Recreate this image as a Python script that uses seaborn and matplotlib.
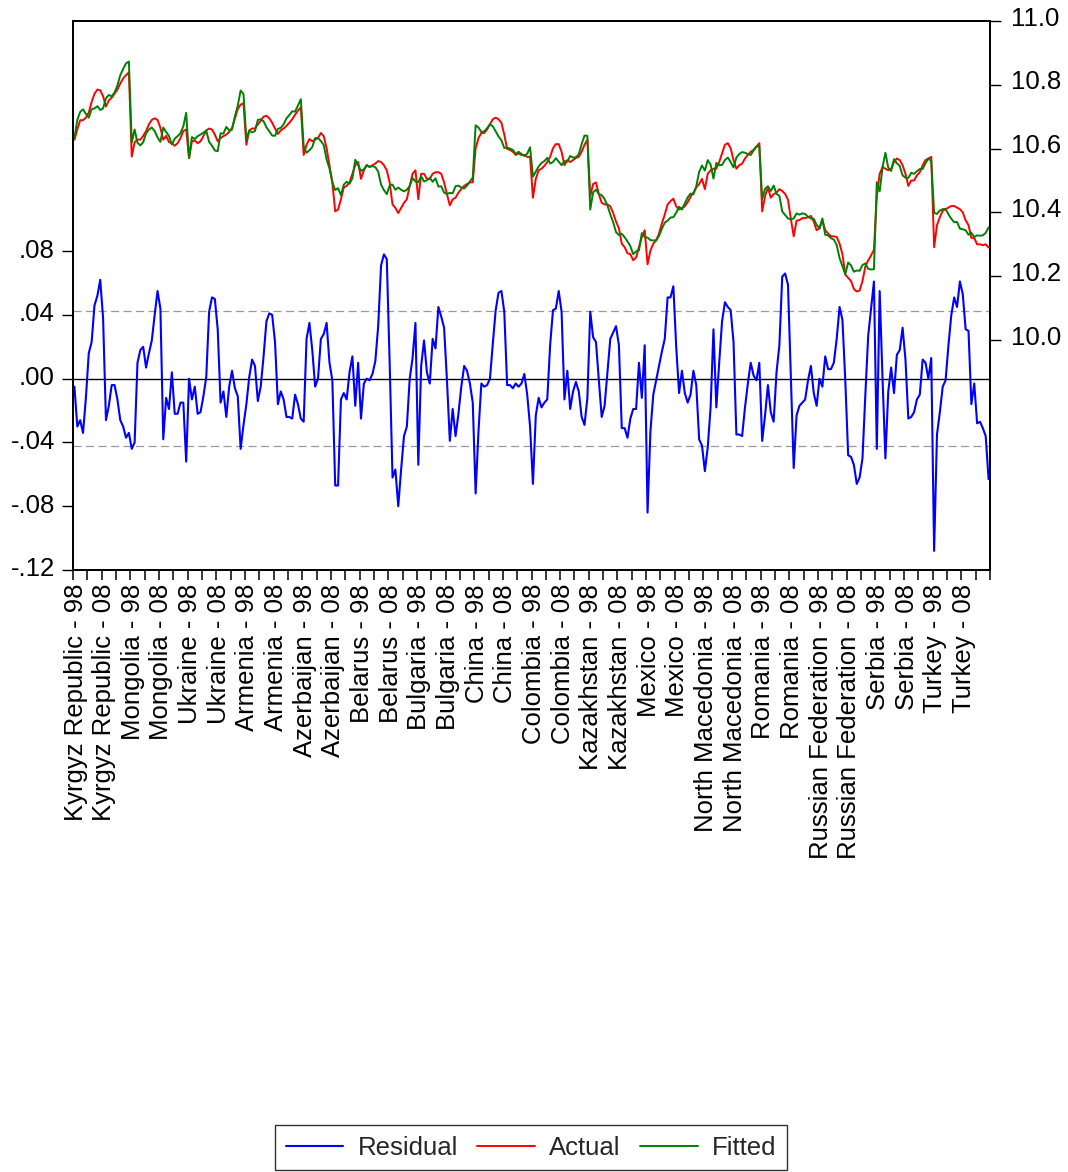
import numpy as np
import pandas as pd
import matplotlib
matplotlib.use("Agg")
import matplotlib.pyplot as plt
from matplotlib.lines import Line2D
from matplotlib.transforms import ScaledTranslation
import seaborn as sns

# Panel: 16 economies, annual observations 1998-2017
COUNTRIES = [
    "Kyrgyz Republic", "Mongolia", "Ukraine", "Armenia", "Azerbaijan",
    "Belarus", "Bulgaria", "China", "Colombia", "Kazakhstan", "Mexico",
    "North Macedonia", "Romania", "Russian Federation", "Serbia", "Turkey",
]
YEARS = list(range(1998, 2018))

# Actual values of the dependent variable, one row per country
ACTUAL = [
    10.628, 10.660, 10.689, 10.689, 10.697, 10.713, 10.746, 10.772, 10.785, 10.783,
    10.764, 10.732, 10.751, 10.760, 10.772, 10.785, 10.804, 10.820, 10.830, 10.839,
    10.575, 10.620, 10.628, 10.628, 10.640, 10.655, 10.676, 10.690, 10.695, 10.690,
    10.665, 10.628, 10.640, 10.620, 10.617, 10.609, 10.617, 10.633, 10.655, 10.660,
    10.570, 10.623, 10.625, 10.617, 10.623, 10.639, 10.657, 10.663, 10.660, 10.644,
    10.623, 10.633, 10.639, 10.644, 10.652, 10.665, 10.695, 10.724, 10.738, 10.742,
    10.612, 10.657, 10.663, 10.663, 10.676, 10.687, 10.700, 10.703, 10.695, 10.681,
    10.663, 10.646, 10.657, 10.663, 10.671, 10.681, 10.692, 10.706, 10.719, 10.730,
    10.580, 10.612, 10.630, 10.623, 10.628, 10.633, 10.649, 10.639, 10.601, 10.548,
    10.494, 10.403, 10.409, 10.441, 10.478, 10.483, 10.494, 10.521, 10.548, 10.558,
    10.505, 10.532, 10.548, 10.542, 10.548, 10.553, 10.561, 10.558, 10.548, 10.532,
    10.494, 10.425, 10.414, 10.398, 10.414, 10.430, 10.441, 10.483, 10.521, 10.532,
    10.441, 10.521, 10.521, 10.505, 10.505, 10.521, 10.526, 10.526, 10.521, 10.494,
    10.457, 10.422, 10.441, 10.446, 10.462, 10.473, 10.483, 10.489, 10.494, 10.494,
    10.601, 10.633, 10.649, 10.649, 10.660, 10.676, 10.692, 10.697, 10.692, 10.681,
    10.644, 10.599, 10.596, 10.590, 10.580, 10.585, 10.580, 10.580, 10.574, 10.574,
    10.446, 10.505, 10.532, 10.537, 10.546, 10.558, 10.574, 10.601, 10.614, 10.614,
    10.590, 10.548, 10.564, 10.558, 10.564, 10.571, 10.574, 10.590, 10.612, 10.628,
    10.451, 10.489, 10.494, 10.457, 10.430, 10.425, 10.425, 10.419, 10.398, 10.371,
    10.350, 10.302, 10.291, 10.272, 10.269, 10.250, 10.259, 10.291, 10.323, 10.344,
    10.237, 10.280, 10.302, 10.312, 10.334, 10.366, 10.393, 10.425, 10.435, 10.443,
    10.419, 10.409, 10.414, 10.419, 10.432, 10.449, 10.462, 10.478, 10.489, 10.505,
    10.473, 10.521, 10.532, 10.537, 10.537, 10.558, 10.585, 10.612, 10.617, 10.601,
    10.564, 10.537, 10.548, 10.553, 10.569, 10.580, 10.590, 10.596, 10.606, 10.617,
    10.403, 10.451, 10.478, 10.446, 10.457, 10.462, 10.473, 10.467, 10.458, 10.440,
    10.380, 10.325, 10.374, 10.376, 10.382, 10.382, 10.385, 10.389, 10.371, 10.344,
    10.350, 10.376, 10.344, 10.334, 10.325, 10.325, 10.323, 10.302, 10.269, 10.205,
    10.195, 10.185, 10.160, 10.152, 10.155, 10.185, 10.230, 10.250, 10.265, 10.283,
    10.451, 10.521, 10.542, 10.537, 10.532, 10.537, 10.558, 10.569, 10.564, 10.548,
    10.521, 10.483, 10.500, 10.500, 10.516, 10.526, 10.548, 10.564, 10.569, 10.574,
    10.291, 10.360, 10.385, 10.405, 10.410, 10.415, 10.420, 10.420, 10.415, 10.410,
    10.400, 10.375, 10.360, 10.320, 10.320, 10.300, 10.300, 10.297, 10.300, 10.290,
]

# Regression residuals, one row per country
RESIDUAL = [
    -0.005, -0.030, -0.026, -0.034, -0.012, 0.016, 0.023, 0.046, 0.052, 0.062,
    0.038, -0.026, -0.017, -0.004, -0.004, -0.013, -0.026, -0.030, -0.037, -0.034,
    -0.044, -0.040, 0.010, 0.018, 0.020, 0.007, 0.016, 0.024, 0.040, 0.055,
    0.044, -0.038, -0.012, -0.019, 0.004, -0.022, -0.022, -0.015, -0.015, -0.052,
    0.000, -0.013, -0.005, -0.022, -0.021, -0.011, 0.001, 0.042, 0.051, 0.050,
    0.031, -0.015, -0.008, -0.024, -0.005, 0.005, -0.006, -0.011, -0.044, -0.029,
    -0.016, 0.001, 0.012, 0.008, -0.014, -0.005, 0.014, 0.036, 0.041, 0.040,
    0.023, -0.016, -0.008, -0.013, -0.024, -0.024, -0.025, -0.010, -0.016, -0.025,
    -0.027, 0.025, 0.035, 0.018, -0.005, 0.000, 0.025, 0.028, 0.035, 0.010,
    -0.001, -0.067, -0.067, -0.013, -0.009, -0.013, 0.004, 0.014, -0.017, 0.010,
    -0.025, -0.003, 0.000, -0.001, 0.003, 0.011, 0.033, 0.071, 0.078, 0.075,
    0.010, -0.062, -0.057, -0.080, -0.057, -0.036, -0.030, 0.000, 0.013, 0.035,
    -0.054, 0.008, 0.024, 0.004, -0.003, 0.025, 0.019, 0.045, 0.039, 0.032,
    -0.001, -0.039, -0.019, -0.036, -0.022, -0.005, 0.008, 0.005, -0.003, -0.015,
    -0.072, -0.033, -0.003, -0.005, -0.004, 0.000, 0.022, 0.043, 0.054, 0.055,
    0.042, -0.004, -0.004, -0.006, -0.003, -0.005, -0.003, 0.003, -0.010, -0.030,
    -0.066, -0.023, -0.012, -0.018, -0.015, -0.013, 0.021, 0.043, 0.044, 0.055,
    0.042, -0.013, 0.005, -0.019, -0.008, -0.002, -0.008, -0.024, -0.029, -0.012,
    0.042, 0.026, 0.023, -0.001, -0.024, -0.017, 0.004, 0.025, 0.029, 0.033,
    0.021, -0.031, -0.031, -0.037, -0.025, -0.019, -0.019, 0.010, -0.012, 0.021,
    -0.084, -0.033, -0.010, -0.001, 0.008, 0.017, 0.025, 0.051, 0.051, 0.058,
    0.020, -0.009, 0.005, -0.009, -0.015, -0.010, 0.005, -0.004, -0.038, -0.042,
    -0.058, -0.043, -0.018, 0.031, -0.018, 0.010, 0.036, 0.048, 0.045, 0.043,
    0.023, -0.035, -0.035, -0.036, -0.018, -0.003, 0.010, 0.002, -0.001, 0.010,
    -0.039, -0.023, -0.004, -0.021, -0.027, 0.004, 0.021, 0.064, 0.066, 0.059,
    0.002, -0.056, -0.023, -0.017, -0.015, -0.013, -0.001, 0.008, -0.009, -0.017,
    0.000, -0.005, 0.014, 0.006, 0.006, 0.010, 0.025, 0.045, 0.037, -0.001,
    -0.048, -0.049, -0.054, -0.066, -0.062, -0.050, -0.010, 0.027, 0.044, 0.061,
    -0.044, 0.055, 0.000, -0.050, -0.008, 0.007, -0.009, 0.015, 0.018, 0.032,
    0.012, -0.025, -0.024, -0.021, -0.013, -0.010, 0.012, 0.010, 0.000, 0.013,
    -0.108, -0.035, -0.021, -0.005, -0.001, 0.021, 0.040, 0.051, 0.045, 0.061,
    0.053, 0.031, 0.030, -0.016, -0.003, -0.028, -0.027, -0.031, -0.036, -0.063,
]

# Standard error of the regression (drawn as +/- band around zero)
SE_REGRESSION = 0.0423

RESID_TICKS = [-0.12, -0.08, -0.04, 0.00, 0.04, 0.08]
LEVEL_TICKS = [10.0, 10.2, 10.4, 10.6, 10.8, 11.0]

# ---------------------------------------------------------------- data frame
n_years = len(YEARS)
df = pd.DataFrame({
    "obs": np.arange(len(COUNTRIES) * n_years),
    "country": np.repeat(COUNTRIES, n_years),
    "year": np.tile(YEARS, len(COUNTRIES)),
    "actual": ACTUAL,
    "residual": RESIDUAL,
})
df["fitted"] = df["actual"] - df["residual"]

# ---------------------------------------------------------------- style
sns.set_theme(style="ticks")
plt.rcParams["font.family"] = ["Liberation Sans", "DejaVu Sans"]
FS = 18.5

W, H = 1068, 1172
fig = plt.figure(figsize=(W / 100, H / 100), dpi=100)
fig.patch.set_facecolor("white")
ax = fig.add_axes([73 / W, 1 - 570 / H, 917 / W, 549 / H])
ax2 = ax.twinx()

# residual on the left scale
ax.axhline(0, color="black", lw=1.0, zorder=1)
for s in (SE_REGRESSION, -SE_REGRESSION):
    ax.axhline(s, color="#9a9a9a", lw=0.9, ls=(0, (6.5, 3.5)), zorder=1)
sns.lineplot(data=df, x="obs", y="residual", ax=ax, color="#0000ff",
             lw=1.5, zorder=3, legend=False)

# actual and fitted on the right scale
sns.lineplot(data=df, x="obs", y="actual", ax=ax2, color="#ff0000",
             lw=1.4, zorder=3, legend=False)
sns.lineplot(data=df, x="obs", y="fitted", ax=ax2, color="#008000",
             lw=1.4, zorder=4, legend=False)

n_obs = len(df)
ax.set_xlim(-0.5, n_obs - 0.5)
ax.set_ylim(-0.12, 0.2244)
ax2.set_ylim(9.279, 11.0)

# x axis: a tick every five observations, labels every ten
tick_pos = np.arange(0, n_obs + 1, 5) - 0.5
ax.set_xticks(tick_pos)
labels = []
for k in range(len(tick_pos)):
    idx = k * 5
    if idx < n_obs and idx % 10 == 0:
        row = df.iloc[idx]
        labels.append(f"{row['country']} - {str(row['year'])[2:]}")
    else:
        labels.append("")
ax.set_xticklabels(labels, rotation=90, ha="center", va="top", fontsize=FS)
ax.tick_params(axis="x", direction="out", length=7, width=1.1, pad=3,
               colors="black")

ax.set_yticks(RESID_TICKS)
ax.set_yticklabels([f"{v:.2f}".replace("0.", ".") for v in RESID_TICKS],
                   fontsize=FS)
ax.tick_params(axis="y", direction="out", length=8, width=1.0, pad=5,
               colors="black")
ax2.set_yticks(LEVEL_TICKS)
ax2.set_yticklabels([f"{v:.1f}" for v in LEVEL_TICKS], fontsize=FS)
ax2.tick_params(axis="y", direction="out", length=8, width=1.0, pad=7,
                colors="black")

for a in (ax, ax2):
    a.set_xlabel("")
    a.set_ylabel("")
    for sp in a.spines.values():
        sp.set_color("black")
        sp.set_linewidth(1.3)
ax.patch.set_visible(False)
ax2.patch.set_visible(False)
ax.set_zorder(ax2.get_zorder() + 1)

# small nudges of the tick labels relative to their ticks
for lbl in ax.get_yticklabels():
    lbl.set_transform(lbl.get_transform()
                      + ScaledTranslation(0, 3 / 100, fig.dpi_scale_trans))
for lbl in ax2.get_yticklabels():
    lbl.set_transform(lbl.get_transform()
                      + ScaledTranslation(0, 5 / 100, fig.dpi_scale_trans))
for lbl in ax.get_xticklabels():
    lbl.set_transform(lbl.get_transform()
                      + ScaledTranslation(2.5 / 100, 0, fig.dpi_scale_trans))

handles = [
    Line2D([], [], color="#0000ff", lw=1.5),
    Line2D([], [], color="#ff0000", lw=1.4),
    Line2D([], [], color="#008000", lw=1.4),
]
leg = fig.legend(handles, ["Residual", "Actual", "Fitted"], loc="lower center",
                 bbox_to_anchor=(531 / W, 2 / H), ncol=3, fontsize=FS,
                 frameon=True, fancybox=False, edgecolor="black",
                 handlelength=2.25, handletextpad=0.55, columnspacing=0.75,
                 borderpad=0.4, borderaxespad=0.0)
leg.get_frame().set_linewidth(1.0)

fig.savefig("out.png", dpi=100, facecolor="white")
